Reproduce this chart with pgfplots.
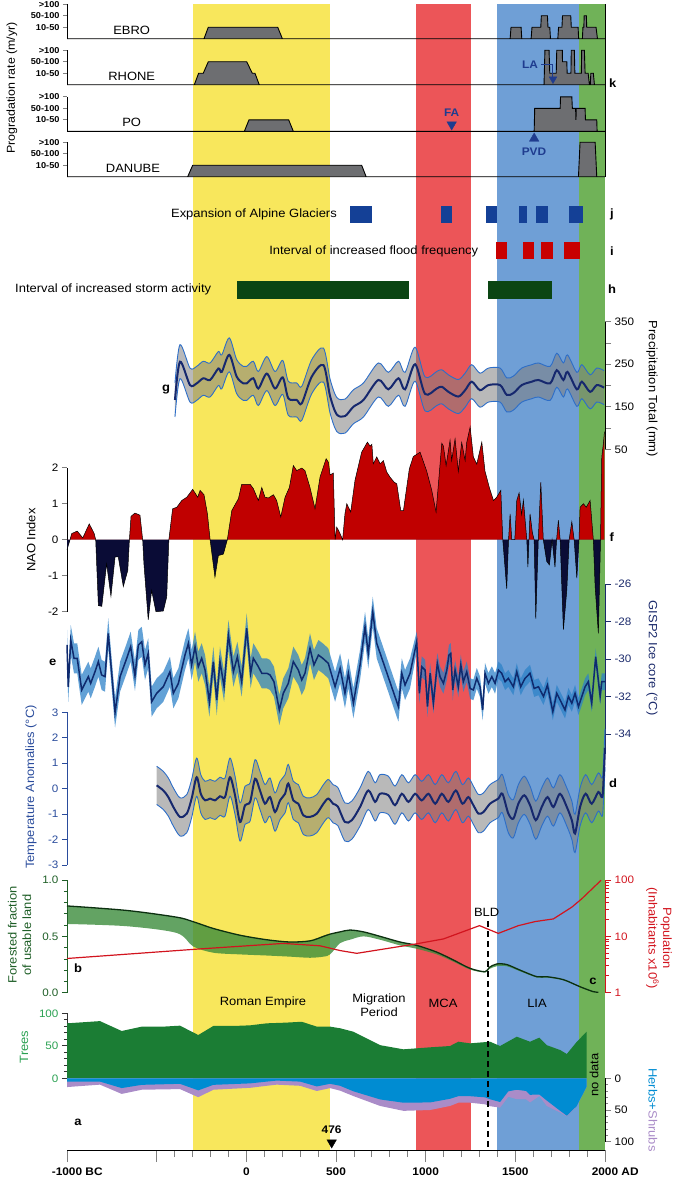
\documentclass[border=0pt]{standalone}
\usepackage{fontspec}
\setmainfont{Liberation Sans}[FakeStretch=1.08]
\usepackage{pgfplots}
\usepackage{pgfplotstable}
\pgfplotsset{compat=1.18}

\definecolor{cyel}{HTML}{F8E75C}
\definecolor{cmca}{HTML}{EC5558}
\definecolor{clia}{HTML}{6F9FD6}
\definecolor{cmod}{HTML}{70B258}
\definecolor{cprog}{HTML}{6D6E71}
\definecolor{cglac}{HTML}{144096}
\definecolor{cflood}{HTML}{C80000}
\definecolor{cstorm}{HTML}{0B4513}
\definecolor{cenv}{HTML}{2D6EC8}
\definecolor{cmean}{HTML}{16286E}
\definecolor{cnaor}{HTML}{C00000}
\definecolor{cnaob}{HTML}{0A0C36}
\definecolor{cgband}{HTML}{2D82C8}
\definecolor{cgline}{HTML}{0F2A6E}
\definecolor{cgax}{HTML}{1B2A6B}
\definecolor{ctax}{HTML}{2A4C9C}
\definecolor{cfor}{HTML}{3C8C3C}
\definecolor{cforl}{HTML}{0C3010}
\definecolor{cforax}{HTML}{1E5E26}
\definecolor{cpop}{HTML}{D2141E}
\definecolor{ctree}{HTML}{1B7D34}
\definecolor{ctreeax}{HTML}{28A050}
\definecolor{cherb}{HTML}{008CD2}
\definecolor{cshrub}{HTML}{AA8CC8}
\definecolor{cmark}{HTML}{1F3C8F}

\newcommand{\lab}{\fontsize{12}{14.5}\selectfont}
\newcommand{\tck}{\fontsize{10.8}{12}\selectfont}

\pgfplotsset{
  panel/.style={scale only axis, width=538pt, xmin=-1000, xmax=2000, clip=false,
    tick align=outside,
    major tick length=5pt, minor tick length=3pt,
    tick style={line width=0.8pt},
    axis line style={line width=0.8pt},
    tick label style={font=\tck}},
  nox/.style={axis x line=none},
  prog/.style={panel, nox, height=34.5pt, ymin=0, ymax=3, axis y line*=left,
    ytick={1,2,3}, yticklabels={10-50,50-100,>100},
    yticklabel style={font=\bfseries\fontsize{8.5}{9}\selectfont}, major tick length=4pt},
}

\pgfplotstableread{
yr m u l w
-398 166 206 126 80
-370 256 296 216 80
-314 201 241 161 80
-277 205 245 165 80
-240 217 257 177 80
-202 213 253 173 80
-156 240 280 200 80
-137 232 272 192 80
-95 272 312 232 80
-54 221 261 181 80
-17 205 245 165 80
2 205 245 165 80
39 217 257 177 80
67 193 233 153 80
114 228 268 188 80
160 193 233 153 80
203 219 259 179 80
234 170 210 130 80
281 166 206 126 80
309 158 198 118 80
365 221 261 181 80
430 248 288 208 80
467 175 215 135 80
504 132 172 92 80
550 128 168 88 80
597 150 190 110 80
653 166 206 126 80
736 213 253 173 80
792 191 231 151 80
848 217 257 177 80
885 191 231 151 80
941 250 290 210 80
997 180 220 140 80
1062 193 233 153 80
1090 197 237 157 80
1127 185 225 145 80
1182 174 214 134 80
1220 189 229 149 80
1257 209 249 169 80
1303 189 229 149 80
1350 201 241 161 80
1415 201 241 161 80
1452 178 218 138 80
1489 182 222 142 80
1536 201 241 161 80
1592 209 249 169 80
1629 213 253 173 80
1694 205 245 165 80
1731 236 276 196 80
1768 213 253 173 80
1791 232 272 192 80
1843 191 231 151 80
1871 209 249 169 80
1917 185 225 145 80
1954 201 241 161 80
1995 195 235 155 80
}\precip

\pgfplotstableread{
yr v
-1000 -0.28
-983 0
-974 0.17
-943 0.24
-912 0.05
-876 0.44
-849 0.18
-840 0
-825 -1.83
-806 -1.85
-779 -0.67
-755 -1.57
-732 -0.48
-714 -0.48
-686 -1.30
-661 -0.85
-652 0
-643 0.65
-621 0.74
-593 0.68
-578 0
-571 -0.67
-547 -2.22
-528 -1.41
-504 -2.00
-463 -1.98
-444 -1.59
-432 0
-411 0.86
-388 0.90
-360 1.09
-332 1.18
-299 1.40
-271 1.18
-258 1.37
-236 1.25
-217 0.72
-202 0
-175 -1.04
-156 -0.44
-128 -0.40
-106 0
-81 0.81
-44 1.14
-26 1.54
21 1.54
39 1.42
67 1.09
86 1.45
104 1.18
123 1.16
151 1.25
169 1.09
192 0.63
216 1.18
240 1.45
262 2.06
281 1.92
309 1.99
327 1.92
355 1.45
383 0.86
411 1.74
445 2.25
458 2.15
467 1.80
485 1.85
495 0
504 0.35
520 0.20
537 0
550 0.72
560 1.00
582 0.77
606 1.65
643 2.43
675 2.71
690 2.60
700 2.65
708 2.11
727 2.30
746 2.11
764 2.20
783 1.88
801 1.74
824 1.60
839 1.55
861 0.81
876 0.81
909 1.97
931 2.31
969 2.43
1006 1.90
1034 1.37
1058 0.77
1090 2.68
1099 2.60
1114 2.06
1136 2.76
1145 2.20
1164 2.80
1182 1.90
1201 2.70
1220 2.20
1229 2.70
1248 3.13
1266 2.30
1285 2.10
1313 2.71
1331 1.90
1355 1.45
1378 1.09
1396 1.18
1419 1.37
1430 0
1452 -1.36
1462 0
1471 0.72
1480 0
1497 0
1508 1.09
1521 1.30
1535 0.70
1545 1.10
1564 0
1570 -0.76
1576 0
1582 0.72
1595 0.20
1605 0
1614 -2.19
1628 0
1642 1.60
1656 0
1675 -0.60
1690 -0.70
1705 0
1721 -0.76
1730 0
1740 0.54
1750 0
1768 -2.50
1787 -1.40
1800 0
1815 0.50
1828 0
1843 -1.07
1855 0
1861 0.90
1880 1.00
1895 0.90
1917 1.09
1935 0
1945 -1.30
1963 -2.60
1975 0
1982 2.30
1991 2.67
1997 3.00
}\nao

\pgfplotstableread{
yr v l w
-1000 -29.25 -30.05 1.6
-993 -31.48 -32.28 1.6
-979 -28.99 -29.79 1.6
-961 -29.96 -30.76 1.6
-943 -29.96 -30.76 1.6
-918 -31.65 -32.45 1.6
-881 -30.94 -31.74 1.6
-868 -31.30 -32.10 1.6
-844 -30.68 -31.48 1.6
-825 -30.14 -30.94 1.6
-807 -30.85 -31.65 1.6
-788 -30.94 -31.74 1.6
-770 -28.63 -29.43 1.6
-732 -32.86 -33.66 1.6
-704 -30.94 -31.74 1.6
-667 -29.96 -30.76 1.6
-645 -29.34 -30.14 1.6
-621 -30.90 -31.70 1.6
-602 -29.25 -30.05 1.6
-583 -29.08 -29.88 1.6
-565 -30.32 -31.12 1.6
-547 -29.70 -30.50 1.6
-528 -32.28 -33.08 1.6
-500 -31.83 -32.63 1.6
-463 -31.48 -32.28 1.6
-426 -30.68 -31.48 1.6
-407 -31.83 -32.63 1.6
-379 -31.30 -32.10 1.6
-342 -29.79 -30.59 1.6
-323 -29.16 -29.96 1.6
-305 -30.32 -31.12 1.6
-286 -29.34 -30.14 1.6
-268 -30.41 -31.21 1.6
-249 -29.96 -30.76 1.6
-230 -30.59 -31.39 1.6
-206 -32.28 -33.08 1.6
-184 -30.14 -30.94 1.6
-165 -32.19 -32.99 1.6
-147 -30.14 -30.94 1.6
-124 -31.48 -32.28 1.6
-100 -28.72 -29.52 1.6
-72 -30.68 -31.48 1.6
-50 -29.88 -30.68 1.6
-26 -31.21 -32.01 1.6
2 -28.36 -29.16 1.6
24 -30.76 -31.56 1.6
39 -29.96 -30.76 1.6
67 -30.41 -31.21 1.6
86 -30.76 -31.56 1.6
114 -30.76 -31.56 1.6
132 -30.85 -31.65 1.6
154 -31.21 -32.01 1.6
184 -32.72 -33.52 1.6
206 -31.83 -32.63 1.6
234 -31.30 -32.10 1.6
262 -30.14 -30.94 1.6
290 -30.59 -31.39 1.6
309 -31.12 -31.92 1.6
327 -30.76 -31.56 1.6
355 -29.43 -30.23 1.6
377 -30.32 -31.12 1.6
402 -29.79 -30.59 1.6
426 -29.96 -30.76 1.6
457 -30.23 -31.03 1.6
495 -31.48 -32.28 1.6
523 -30.50 -31.30 1.6
550 -31.83 -32.63 1.6
569 -30.76 -31.56 1.6
597 -32.36 -33.16 1.6
616 -31.30 -32.10 1.6
634 -30.32 -31.12 1.6
662 -28.28 -29.08 1.6
680 -29.70 -30.50 1.6
705 -27.48 -28.28 1.6
727 -29.16 -29.96 1.6
848 -32.54 -33.34 1.6
867 -30.76 -31.56 1.6
885 -31.39 -32.19 1.6
913 -30.76 -31.56 1.6
950 -29.08 -29.63 1.1
965 -31.83 -32.38 1.1
978 -30.41 -30.96 1.1
997 -30.59 -31.14 1.1
1010 -32.54 -33.09 1.1
1025 -30.76 -31.31 1.1
1043 -32.36 -32.91 1.1
1065 -30.23 -30.78 1.1
1080 -30.94 -31.49 1.1
1099 -31.30 -31.85 1.1
1118 -30.59 -31.14 1.1
1130 -29.79 -30.34 1.1
1140 -29.70 -30.25 1.1
1151 -31.65 -32.20 1.1
1164 -30.59 -31.14 1.1
1182 -31.48 -32.03 1.1
1196 -30.32 -30.87 1.1
1210 -31.21 -31.76 1.1
1229 -30.68 -31.23 1.1
1248 -31.57 -32.12 1.1
1266 -31.65 -32.20 1.1
1285 -31.03 -31.58 1.1
1303 -31.48 -32.03 1.1
1318 -32.72 -33.27 1.1
1331 -30.76 -31.31 1.1
1350 -31.30 -31.85 1.1
1369 -30.94 -31.49 1.1
1387 -31.30 -31.85 1.1
1406 -30.59 -31.04 0.9
1424 -30.76 -31.21 0.9
1443 -31.21 -31.66 0.9
1461 -31.03 -31.48 0.9
1489 -31.48 -31.93 0.9
1508 -30.68 -31.13 0.9
1530 -31.48 -31.93 0.9
1554 -31.03 -31.48 0.9
1582 -30.76 -31.21 0.9
1605 -31.57 -32.02 0.9
1629 -31.48 -31.93 0.9
1657 -32.00 -32.45 0.9
1679 -31.39 -31.84 0.9
1709 -32.81 -33.26 0.9
1731 -31.83 -32.28 0.9
1750 -32.19 -32.64 0.9
1777 -32.72 -33.17 0.9
1796 -32.00 -32.45 0.9
1815 -32.36 -32.81 0.9
1833 -31.83 -32.28 0.9
1852 -32.54 -32.99 0.9
1871 -32.00 -32.45 0.9
1889 -31.48 -31.93 0.9
1907 -31.21 -31.66 0.9
1926 -32.36 -32.81 0.9
1948 -29.88 -30.33 0.9
1973 -32.00 -32.45 0.9
1982 -31.21 -31.66 0.9
2000 -31.21 -31.66 0.9
}\gisp

\pgfplotstableread{
yr m u l w
-500 0.13 0.88 -0.62 1.5
-463 -0.07 0.68 -0.82 1.5
-435 -0.33 0.42 -1.08 1.5
-407 -0.72 0.03 -1.47 1.5
-370 -1.11 -0.36 -1.86 1.5
-332 -0.98 -0.23 -1.73 1.5
-305 -0.39 0.36 -1.14 1.5
-277 0.45 1.20 -0.30 1.5
-254 -0.20 0.55 -0.95 1.5
-230 -0.46 0.29 -1.21 1.5
-202 -0.39 0.36 -1.14 1.5
-175 -0.46 0.29 -1.21 1.5
-147 -0.30 0.45 -1.05 1.5
-119 -0.33 0.42 -1.08 1.5
-91 0.45 1.20 -0.30 1.5
-63 -0.26 0.49 -1.01 1.5
-35 -1.31 -0.56 -2.06 1.5
-7 -0.65 0.10 -1.40 1.5
21 -0.52 0.23 -1.27 1.5
49 0.39 1.14 -0.36 1.5
76 -0.07 0.68 -0.82 1.5
104 -0.59 0.16 -1.34 1.5
132 -0.33 0.42 -1.08 1.5
160 -0.92 -0.17 -1.67 1.5
188 -0.46 0.29 -1.21 1.5
216 -0.20 0.55 -0.95 1.5
234 0.20 0.95 -0.55 1.5
262 -0.46 0.29 -1.21 1.5
290 -0.59 0.16 -1.34 1.5
318 -1.05 -0.30 -1.80 1.5
355 -1.11 -0.36 -1.86 1.5
393 -0.98 -0.23 -1.73 1.5
430 -0.59 0.16 -1.34 1.5
457 -0.39 0.36 -1.14 1.5
485 -0.60 0.15 -1.35 1.5
510 -0.70 0.05 -1.45 1.5
550 -1.31 -0.56 -2.06 1.5
588 -1.24 -0.49 -1.99 1.5
634 -0.72 0.03 -1.47 1.5
680 -0.07 0.68 -0.82 1.5
718 -0.52 0.23 -1.27 1.5
745 -0.20 0.55 -0.95 1.5
792 -0.26 0.49 -1.01 1.5
829 -0.65 0.10 -1.40 1.5
867 -0.20 0.55 -0.95 1.5
904 -0.52 0.23 -1.27 1.5
941 -0.20 0.55 -0.95 1.5
978 -0.46 0.29 -1.21 1.5
1016 -0.20 0.55 -0.95 1.5
1053 -0.59 0.16 -1.34 1.5
1090 -0.20 0.55 -0.95 1.5
1127 -0.52 0.23 -1.27 1.5
1168 -0.07 0.68 -0.82 1.5
1205 -0.59 0.16 -1.34 1.5
1238 -0.33 0.42 -1.08 1.5
1266 -0.65 0.10 -1.40 1.5
1294 -0.98 -0.23 -1.73 1.5
1322 -0.92 -0.17 -1.67 1.5
1359 -0.59 0.16 -1.34 1.5
1405 -0.39 0.36 -1.14 1.5
1428 -0.20 0.55 -0.95 1.5
1461 -0.98 -0.23 -1.73 1.5
1489 -1.18 -0.43 -1.93 1.5
1517 -0.59 0.16 -1.34 1.5
1550 -0.26 0.49 -1.01 1.5
1582 -0.65 0.10 -1.40 1.5
1614 -1.24 -0.49 -1.99 1.5
1647 -0.72 0.03 -1.47 1.5
1680 -0.33 0.42 -1.08 1.5
1712 -0.72 0.03 -1.47 1.5
1749 -0.20 0.55 -0.95 1.5
1787 -0.72 0.03 -1.47 1.5
1815 -1.24 -0.49 -1.99 1.5
1833 -1.76 -1.01 -2.51 1.5
1861 -0.72 0.03 -1.47 1.5
1892 -0.20 0.55 -0.95 1.5
1926 -0.59 0.16 -1.34 1.5
1963 -0.13 0.62 -0.88 1.5
1985 -0.33 0.42 -1.08 1.5
1993 0.50 1.25 -0.25 1.5
2000 1.60 2.35 0.85 1.5
}\temp

\pgfplotstableread{
yr u l w
-1000 0.77 0.61 0.16
-667 0.73 0.59 0.14
-388 0.67 0.53 0.14
-296 0.63 0.41 0.22
-184 0.57 0.355 0.215
-35 0.51 0.34 0.17
114 0.47 0.33 0.14
244 0.45 0.32 0.13
355 0.46 0.31 0.15
430 0.50 0.32 0.18
467 0.52 0.34 0.18
523 0.54 0.44 0.10
578 0.556 0.47 0.086
653 0.54 0.50 0.04
746 0.50 0.47 0.03
857 0.45 0.42 0.03
950 0.42 0.39 0.03
1062 0.36 0.34 0.02
1155 0.29 0.275 0.015
1248 0.216 0.205 0.011
1331 0.186 0.18 0.006
1355 0.225 0.21 0.015
1396 0.255 0.235 0.02
1452 0.25 0.235 0.015
1527 0.20 0.19 0.01
1620 0.142 0.135 0.007
1675 0.142 0.135 0.007
1768 0.116 0.11 0.006
1861 0.053 0.05 0.003
1935 0.009 0.008 0.001
1963 0.005 0.005 0
}\forest

\pgfplotstableread{
yr p
-1000 4.05
-268 5.96
206 7.5
411 6.8
523 5.6
616 5.0
941 7.3
1099 9.0
1300 15.5
1405 11.3
1517 15.5
1610 18.3
1712 20.4
1815 33
1871 46.6
1978 99
}\pop

\pgfplotstableread{
yr t
-1000 84.6
-816 88
-695 72.8
-583 79.5
-463 79.5
-370 81
-268 66.6
-184 80.5
-72 80.5
21 81.5
114 84.6
216 85.6
309 87
393 79.5
467 79.5
523 77
597 71.7
746 51
876 44.6
1025 47.7
1136 49.7
1182 56.3
1248 53.8
1359 56.3
1415 49.7
1508 64
1582 56.3
1634 62.6
1675 51
1750 43.5
1787 37.4
1843 56.3
1898 71.7
}\trees

\pgfplotstableread{
yr h s
-1000 5.2 13.8
-816 5.2 10
-695 15.4 24.6
-583 10.3 18
-370 8.7 17
-268 19 29.8
-184 10.3 18
21 8 15
114 5.2 11.8
169 3.6 10
300 5.2 11.8
393 12.8 20
467 8.7 15.4
523 11.8 19.5
597 20.5 28
746 33.3 43.6
876 38.5 51.3
1025 38 50
1136 32.3 43.6
1182 28.2 38.5
1248 28.2 38.5
1331 30 41
1359 33 44
1415 37.4 46.2
1461 20.5 29
1508 18 33
1560 20 33
1582 26 38
1634 25.6 28
1675 35 43.6
1750 51.3 54
1787 59 60
1843 43.6 44
1898 12.8 13
}\herbs

\begin{document}
\begin{tikzpicture}[lbl/.style={font=\lab, inner sep=0pt}]
\useasboundingbox (0,0) rectangle (675pt,-1181pt);

% ---------- background bands and time axis
\begin{axis}[panel, at={(67pt,-1150pt)}, anchor=south west, height=1146pt,
  ymin=-1150, ymax=-4, axis x line*=bottom, axis y line=none,
  xtick={-1000,-500,0,500,1000,1500,2000},
  minor xtick={-400,-300,...,1900},
  xticklabels={{-1000\rlap{\ BC}},{},0,500,1000,1500,{2000\rlap{\ AD}}},
  major tick length=12pt, minor tick length=7pt,
  xticklabel style={font=\bfseries\fontsize{11}{12}\selectfont, yshift=-2pt}]
\addplot[draw=none, fill=cyel] coordinates {(-300,-1150) (-300,-4) (465,-4) (465,-1150)};
\addplot[draw=none, fill=cmca] coordinates {(948,-1150) (948,-4) (1253,-4) (1253,-1150)};
\addplot[draw=none, fill=clia] coordinates {(1397,-1150) (1397,-4) (1855,-4) (1855,-1150)};
\addplot[draw=none, fill=cmod] coordinates {(1855,-1150) (1855,-4) (2000,-4) (2000,-1150)};
\end{axis}

% ---------- k: progradation
\begin{axis}[prog, at={(67pt,-38.7pt)}, anchor=south west]
\addplot[fill=cprog, draw=black, line width=0.9pt] coordinates {(-1000,0) (-236,0) (-212,1) (175,1) (201,0) (1471,0) (1476,1) (1532,1) (1536,0) (1588,0) (1593,1) (1642,1) (1645,2) (1679,2) (1682,1) (1692,1) (1696,0) (1737,0) (1741,1) (1760,1) (1763,2) (1809,2) (1812,1) (1850,1) (1853,0) (1874,0) (1877,1) (1882,1) (1884,2) (1896,2) (1898,1) (1950,1) (1958,0) (2000,0)} \closedcycle;
\end{axis}
\begin{axis}[prog, at={(67pt,-84.7pt)}, anchor=south west]
\addplot[fill=cprog, draw=black, line width=0.9pt] coordinates {(-1000,0) (-290,0) (-266,1) (-240,1) (-212,2) (2,2) (33,1) (48,1) (72,0) (1660,0) (1665,3) (1688,3) (1692,1) (1728,1) (1731,3) (1762,3) (1763,2) (1787,2) (1789,1) (1810,1) (1812,3) (1829,3) (1832,1) (1868,1) (1870,3) (1885,3) (1889,1) (1906,1) (1913,0) (1918,0) (1921,1) (1935,1) (1941,0) (2000,0)} \closedcycle;
\end{axis}
\begin{axis}[prog, at={(67pt,-131.3pt)}, anchor=south west]
\addplot[fill=cprog, draw=black, line width=0.9pt] coordinates {(-1000,0) (-11,0) (15,1) (236,1) (262,0) (1605,0) (1608,2) (1750,2) (1752,3) (1815,3) (1818,2) (1836,2) (1838,1) (1840,2) (1889,2) (1891,1) (1954,1) (1956,0) (2000,0)} \closedcycle;
\end{axis}
\begin{axis}[prog, at={(67pt,-176.7pt)}, anchor=south west]
\addplot[fill=cprog, draw=black, line width=0.9pt] coordinates {(-1000,0) (-327,0) (-299,1) (643,1) (668,0) (1852,0) (1861,3) (1945,3) (1954,0) (2000,0)} \closedcycle;
\end{axis}

% ---------- g: precipitation
\begin{axis}[panel, nox, at={(67pt,-449.3pt)}, anchor=south west, height=127.6pt,
  ymin=50, ymax=350, axis y line=none, stack plots=y]
\addplot[draw=none, smooth] table[x=yr,y=l]{\precip};
\addplot[fill=black!50, fill opacity=0.55, draw=none, smooth] table[x=yr,y=w]{\precip} \closedcycle;
\end{axis}
\begin{axis}[panel, nox, at={(67pt,-449.3pt)}, anchor=south west, height=127.6pt,
  ymin=50, ymax=350, axis y line*=right, ytick={50,150,250,350}, yticklabels={50,150,250,350},
  minor ytick={100,200,300}, major tick length=6pt, minor tick length=6pt]
\addplot[cenv, line width=0.9pt, smooth] table[x=yr,y=u]{\precip};
\addplot[cenv, line width=0.9pt, smooth] table[x=yr,y=l]{\precip};
\addplot[cmean, line width=2pt, smooth] table[x=yr,y=m]{\precip};
\end{axis}

% ---------- f: NAO
\begin{axis}[panel, nox, at={(67pt,-611.7pt)}, anchor=south west, height=144pt,
  ymin=-2, ymax=2, axis y line*=left, ytick={-2,-1,0,1,2}, yticklabels={-2,-1,0,1,2}]
\addplot[draw=none, fill=cnaor] table[x=yr, y expr={max(\thisrow{v},0)}]{\nao} \closedcycle;
\addplot[draw=none, fill=cnaob] table[x=yr, y expr={min(\thisrow{v},0)}]{\nao} \closedcycle;
\addplot[black, line width=0.5pt] table[x=yr,y=v]{\nao};
\end{axis}

% ---------- e: GISP2
\begin{axis}[panel, nox, at={(67pt,-752.75pt)}, anchor=south west, height=168.75pt,
  ymin=-35, ymax=-26, axis y line=none, stack plots=y]
\addplot[draw=none] table[x=yr,y=l]{\gisp};
\addplot[fill=cgband, fill opacity=0.75, draw=none] table[x=yr,y=w]{\gisp} \closedcycle;
\end{axis}
\begin{axis}[panel, nox, at={(67pt,-752.75pt)}, anchor=south west, height=168.75pt,
  ymin=-35, ymax=-26, axis y line*=right, ytick={-34,-32,-30,-28,-26}, yticklabels={-34,-32,-30,-28,-26},
  axis line style={cgax}, tick style={cgax}, yticklabel style={color=cgax}, major tick length=6pt]
\addplot[cgline, line width=1.5pt] table[x=yr,y=v]{\gisp};
\end{axis}

% ---------- d: temperature anomalies
\begin{axis}[panel, nox, at={(67pt,-865pt)}, anchor=south west, height=152.7pt,
  ymin=-3, ymax=3, axis y line=none, stack plots=y]
\addplot[draw=none, smooth] table[x=yr,y=l]{\temp};
\addplot[fill=black!50, fill opacity=0.55, draw=none, smooth] table[x=yr,y=w]{\temp} \closedcycle;
\end{axis}
\begin{axis}[panel, nox, at={(67pt,-865pt)}, anchor=south west, height=152.7pt,
  ymin=-3, ymax=3, axis y line*=left, ytick={-3,-2,-1,0,1,2,3}, yticklabels={-3,-2,-1,0,1,2,3},
  axis line style={ctax}, tick style={ctax}, yticklabel style={color=ctax}]
\addplot[cenv, line width=0.9pt, smooth] table[x=yr,y=u]{\temp};
\addplot[cenv, line width=0.9pt, smooth] table[x=yr,y=l]{\temp};
\addplot[cmean, line width=2pt, smooth] table[x=yr,y=m]{\temp};
\end{axis}

% ---------- b: forested fraction
\begin{axis}[panel, nox, at={(67pt,-992.7pt)}, anchor=south west, height=112.7pt,
  ymin=0, ymax=1, axis y line=none, stack plots=y]
\addplot[draw=none, smooth] table[x=yr,y=l]{\forest};
\addplot[fill=cfor, fill opacity=0.8, draw=none, smooth] table[x=yr,y=w]{\forest} \closedcycle;
\end{axis}
\begin{axis}[panel, nox, at={(67pt,-992.7pt)}, anchor=south west, height=112.7pt,
  ymin=0, ymax=1, axis y line*=left, ytick={0,0.5,1}, yticklabels={0.0,0.5,1.0},
  minor ytick={0.1,0.2,0.3,0.4,0.6,0.7,0.8,0.9},
  axis line style={cforax}, tick style={cforax}, yticklabel style={color=cforax}]
\addplot[cforl, line width=1.3pt, smooth] table[x=yr,y=u]{\forest};
\end{axis}

% ---------- c: population
\begin{axis}[panel, nox, at={(67pt,-992.7pt)}, anchor=south west, height=112.7pt,
  ymode=log, ymin=1, ymax=100, axis y line*=right, ytick={1,10,100}, yticklabels={1,10,100},
  minor ytick={2,3,4,5,6,7,8,9,20,30,40,50,60,70,80,90},
  axis line style={cpop}, tick style={cpop}, yticklabel style={color=cpop},
  major tick length=6pt, minor tick length=4pt]
\addplot[cpop, line width=1.2pt] table[x=yr,y=p]{\pop};
\end{axis}

% ---------- a: pollen
\begin{axis}[panel, nox, at={(67pt,-1078.3pt)}, anchor=south west, height=65pt,
  ymin=0, ymax=100, axis y line*=left, ytick={0,50,100}, yticklabels={0,50,100},
  minor ytick={10,20,30,40,60,70,80,90}, yticklabel style={color=ctreeax},
  axis line style={black!80}, tick style={black!80}]
\addplot[fill=ctree, draw=none] table[x=yr,y=t]{\trees} \closedcycle;
\end{axis}
\begin{axis}[panel, nox, at={(67pt,-1141.7pt)}, anchor=south west, height=63.4pt,
  ymin=0, ymax=100, y dir=reverse, axis y line*=right, ytick={0,50,100}, yticklabels={0,50,100},
  minor ytick={10,20,30,40,60,70,80,90}, major tick length=6pt]
\addplot[fill=cshrub, draw=none] table[x=yr,y=s]{\herbs} \closedcycle;
\addplot[fill=cherb, draw=none] table[x=yr,y=h]{\herbs} \closedcycle;
\end{axis}

% ---------- foreground: bars j/i/h, markers
\begin{axis}[panel, nox, at={(67pt,-1150pt)}, anchor=south west, height=1146pt,
  ymin=-1150, ymax=-4, axis y line=none]
\addplot[black, line width=0.8pt] coordinates {(2000,-4) (2000,-176.7)};
\addplot[draw=none, fill=cglac] coordinates {(578,-206) (578,-223) (698,-223) (698,-206)};
\addplot[draw=none, fill=cglac] coordinates {(1083,-206) (1083,-223) (1146,-223) (1146,-206)};
\addplot[draw=none, fill=cglac] coordinates {(1337,-206) (1337,-223) (1395,-223) (1395,-206)};
\addplot[draw=none, fill=cglac] coordinates {(1521,-206) (1521,-223) (1564,-223) (1564,-206)};
\addplot[draw=none, fill=cglac] coordinates {(1615,-206) (1615,-223) (1684,-223) (1684,-206)};
\addplot[draw=none, fill=cglac] coordinates {(1800,-206) (1800,-223) (1877,-223) (1877,-206)};
\addplot[draw=none, fill=cflood] coordinates {(1391,-242) (1391,-259) (1453,-259) (1453,-242)};
\addplot[draw=none, fill=cflood] coordinates {(1542,-242) (1542,-259) (1602,-259) (1602,-242)};
\addplot[draw=none, fill=cflood] coordinates {(1644,-242) (1644,-259) (1708,-259) (1708,-242)};
\addplot[draw=none, fill=cflood] coordinates {(1769,-242) (1769,-259) (1859,-259) (1859,-242)};
\addplot[draw=none, fill=cstorm] coordinates {(-52,-281) (-52,-299) (905,-299) (905,-281)};
\addplot[draw=none, fill=cstorm] coordinates {(1345,-281) (1345,-299) (1703,-299) (1703,-281)};
\addplot[only marks, mark=triangle*, mark size=5.5pt, mark options={rotate=180, fill=cmark, draw=cmark}] coordinates {(1145,-124.5)};
\addplot[only marks, mark=triangle*, mark size=5.5pt, mark options={fill=cmark, draw=cmark}] coordinates {(1605,-138.5)};
\addplot[cmark, line width=1pt] coordinates {(1645,-64.3) (1710,-64.3) (1710,-77)};
\addplot[only marks, mark=triangle*, mark size=4.5pt, mark options={rotate=180, fill=cmark, draw=cmark}] coordinates {(1710,-79)};
\addplot[only marks, mark=triangle*, mark size=5.5pt, mark options={rotate=180, fill=black, draw=black}] coordinates {(476,-1142.5)};
\addplot[black, line width=2.2pt, dash pattern=on 6pt off 4pt] coordinates {(1347,-921) (1347,-1150)};
\end{axis}

% ---------- text
\node[lbl, rotate=90, font=\fontsize{11.5}{13}\selectfont] at (12pt,-88pt) {Progradation rate (m/yr)};
\node[lbl] at (131.7pt,-30pt) {EBRO};
\node[lbl] at (131.7pt,-76.3pt) {RHONE};
\node[lbl] at (131.7pt,-122.7pt) {PO};
\node[lbl] at (133pt,-168.3pt) {DANUBE};
\node[lbl, font=\bfseries\fontsize{11}{12}\selectfont, text=cmark] at (451.7pt,-113pt) {FA};
\node[lbl, font=\bfseries\fontsize{11}{12}\selectfont, text=cmark] at (534pt,-152pt) {PVD};
\node[lbl, font=\bfseries\fontsize{11}{12}\selectfont, text=cmark] at (530pt,-65pt) {LA};
\node[lbl, font=\bfseries\lab] at (612.7pt,-83.3pt) {k};
\node[lbl, anchor=east] at (337pt,-214pt) {Expansion of Alpine Glaciers};
\node[lbl, anchor=east] at (478.4pt,-251pt) {Interval of increased flood frequency};
\node[lbl, anchor=west] at (15pt,-289.5pt) {Interval of increased storm activity};
\node[lbl, font=\bfseries\lab] at (612pt,-214pt) {j};
\node[lbl, font=\bfseries\lab] at (612pt,-251pt) {i};
\node[lbl, font=\bfseries\lab] at (612pt,-289pt) {h};
\node[lbl, rotate=-90] at (652pt,-389pt) {Precipitation Total (mm)};
\node[lbl, font=\bfseries\lab] at (166pt,-390pt) {g};
\node[lbl, rotate=90] at (31pt,-540pt) {NAO Index};
\node[lbl, font=\bfseries\lab] at (611.7pt,-536.7pt) {f};
\node[lbl, font=\bfseries\lab] at (52.7pt,-662.7pt) {e};
\node[lbl, rotate=-90, text=cgax] at (652pt,-658pt) {GISP2 Ice core (°C)};
\node[lbl, rotate=90, text=ctax] at (31pt,-787pt) {Temperature Anomalies (°C)};
\node[lbl, font=\bfseries\lab] at (613pt,-783pt) {d};
\node[lbl, rotate=90, text=cforax, align=center] at (19.5pt,-935pt) {Forested fraction\\of usable land};
\node[lbl, rotate=-90, text=cpop, align=center] at (659pt,-938pt) {Population\\(Inhabitants x10\textsuperscript{6})};
\node[lbl, font=\bfseries\lab] at (78pt,-968pt) {b};
\node[lbl, font=\bfseries\lab] at (593pt,-981.7pt) {c};
\node[lbl] at (486.7pt,-912.7pt) {BLD};
\node[lbl] at (263pt,-1002pt) {Roman Empire};
\node[lbl, align=center] at (379pt,-1005pt) {Migration\\Period};
\node[lbl] at (443pt,-1003pt) {MCA};
\node[lbl] at (537pt,-1003pt) {LIA};
\node[lbl, rotate=90, text=ctreeax] at (24pt,-1047pt) {Trees};
\node[lbl, rotate=90] at (594pt,-1075pt) {no data};
\node[lbl, rotate=-90] at (653pt,-1110pt) {\textcolor{cherb}{Herbs+}\textcolor{cshrub}{Shrubs}};
\node[lbl, font=\bfseries\lab] at (78pt,-1122pt) {a};
\node[lbl, font=\bfseries\fontsize{11}{12}\selectfont] at (331.6pt,-1130pt) {476};
\end{tikzpicture}
\end{document}
